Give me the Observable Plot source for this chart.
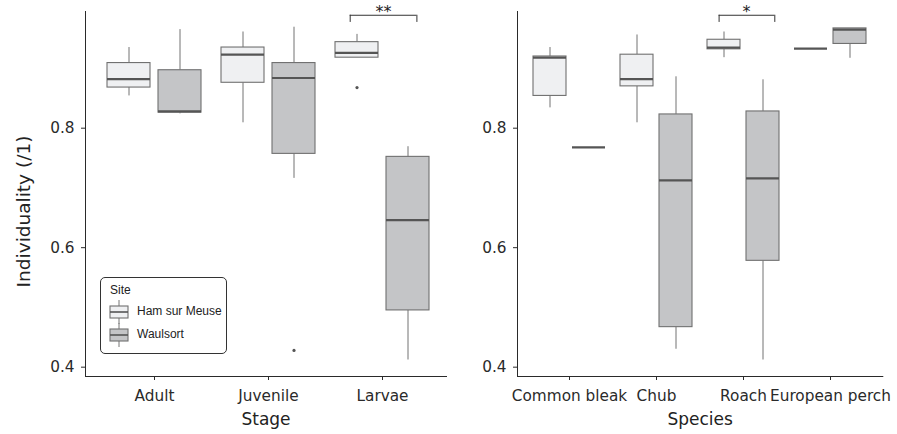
<!DOCTYPE html>
<html>
<head>
<meta charset="utf-8">
<script src="https://cdn.jsdelivr.net/npm/d3@7"></script>
<script src="https://cdn.jsdelivr.net/npm/@observablehq/plot@0.6"></script>
<style>
  html, body { margin: 0; padding: 0; background: #fff; }
  #wrap { position: relative; width: 897px; height: 434px; display: flex; }
  #legend { position: absolute; left: 100px; top: 277px; width: 125px; height: 75px;
            border: 1px solid #333; border-radius: 5px; background: #fff;
            font-family: "Liberation Sans", Arial, sans-serif; color: #222; }
  #legend .t { position: absolute; font-size: 12px; line-height: 12px; white-space: nowrap; }
  #legend svg { position: absolute; }
</style>
</head>
<body>
<div id="wrap"></div>
<script>
// ---------- data ----------
const sites = ["Ham sur Meuse", "Waulsort"];
const siteFill = ["#eff0f2", "#c4c5c7"];

// Stage panel
const stageCats = ["Adult", "Juvenile", "Larvae"];
const stageHamLo  = [0.854, 0.809, 0.918];
const stageHamQ1  = [0.868, 0.876, 0.918];
const stageHamMed = [0.882, 0.923, 0.926];
const stageHamQ3  = [0.909, 0.935, 0.944];
const stageHamHi  = [0.935, 0.961, 0.957];
const stageWauLo  = [0.824, 0.716, 0.412];
const stageWauQ1  = [0.826, 0.757, 0.495];
const stageWauMed = [0.828, 0.884, 0.646];
const stageWauQ3  = [0.897, 0.909, 0.752];
const stageWauHi  = [0.965, 0.969, 0.769];
const stageOutCat   = ["Juvenile", "Larvae"];
const stageOutSite  = ["Waulsort", "Ham sur Meuse"];
const stageOutValue = [0.428, 0.868];

// Species panel
const speciesCats = ["Common bleak", "Chub", "Roach", "European perch"];
const specHamLo  = [0.834, 0.809, 0.918, 0.933];
const specHamQ1  = [0.854, 0.870, 0.932, 0.933];
const specHamMed = [0.918, 0.882, 0.935, 0.933];
const specHamQ3  = [0.920, 0.923, 0.948, 0.933];
const specHamHi  = [0.935, 0.956, 0.961, 0.933];
const specWauLo  = [0.768, 0.430, 0.412, 0.917];
const specWauQ1  = [0.768, 0.467, 0.578, 0.941];
const specWauMed = [0.768, 0.7125, 0.716, 0.965];
const specWauQ3  = [0.768, 0.823, 0.828, 0.967];
const specWauHi  = [0.768, 0.886, 0.881, 0.967];

// significance brackets
const stageSig = {cat: "Larvae", label: "**", y: 0.989, yLeg: 0.977};
const specSig  = {cat: "Roach", label: "*", y: 0.989, yLeg: 0.977};

const yTicks = [0.4, 0.6, 0.8];
const yDomain = [0.3844, 0.9953];

// ---------- helpers ----------
function rows(cats, site, lo, q1, med, q3, hi) {
  return cats.map((c, i) => ({cat: c, site, lo: lo[i], q1: q1[i], med: med[i], q3: q3[i], hi: hi[i]}));
}

function panel(o) {
  const n = o.cats.length;
  const step = (o.range[1] - o.range[0]) / n;
  const band = 2 * o.boxW + o.gap;
  const pad = 1 - band / step;
  const off = (o.boxW + o.gap) / 2;
  const sideInset = o.boxW + o.gap;
  const marks = [];
  o.data.forEach((d, s) => {
    const dx = s === 0 ? -off : off;
    const ins = s === 0 ? {insetLeft: 0, insetRight: sideInset} : {insetLeft: sideInset, insetRight: 0};
    marks.push(Plot.ruleX(d, {x: "cat", y1: "lo", y2: "q1", dx, stroke: "#737373", strokeWidth: 1}));
    marks.push(Plot.ruleX(d, {x: "cat", y1: "q3", y2: "hi", dx, stroke: "#737373", strokeWidth: 1}));
    marks.push(Plot.barY(d, {x: "cat", y1: "q1", y2: "q3", fill: siteFill[s], stroke: "#707070", strokeWidth: 1.1, ...ins}));
    marks.push(Plot.tickY(d, {x: "cat", y: "med", stroke: "#555", strokeWidth: 2.2, ...ins}));
  });
  if (o.outliers) {
    o.outliers.forEach(p => {
      const s = sites.indexOf(p.site);
      marks.push(Plot.dot([p], {x: "cat", y: "value", dx: s === 0 ? -off : off, r: 1.6, fill: "#555", stroke: "none"}));
    });
  }
  const sig = o.sig;
  marks.push(Plot.tickY([sig], {x: "cat", y: "y", stroke: "#333", strokeWidth: 1,
    insetLeft: band / 2 + o.bracket[0], insetRight: band / 2 - o.bracket[1]}));
  marks.push(Plot.ruleX([sig], {x: "cat", y1: "yLeg", y2: "y", dx: o.bracket[0], stroke: "#333", strokeWidth: 1}));
  marks.push(Plot.ruleX([sig], {x: "cat", y1: "yLeg", y2: "y", dx: o.bracket[1], stroke: "#333", strokeWidth: 1}));
  marks.push(Plot.text([sig], {x: "cat", y: "y", text: "label", dx: o.starDx, dy: -3.5, fontSize: 16, fill: "#222"}));
  // axis titles
  marks.push(Plot.text([o.xLabel], {frameAnchor: "bottom", textAnchor: "middle", dy: 48, fontSize: 17, fill: "#222"}));
  if (o.yLabel) {
    marks.push(Plot.text([o.yLabel], {frameAnchor: "left", textAnchor: "middle", rotate: -90, dx: -61, dy: 17.5, fontSize: 18.5, fill: "#222"}));
  }
  return Plot.plot({
    width: o.width, height: 434,
    marginLeft: o.marginLeft, marginRight: o.marginRight, marginTop: 11, marginBottom: 58,
    style: {fontFamily: "'DejaVu Sans', Verdana, sans-serif", fontSize: "15.3px", color: "#2a2a2a", background: "transparent", overflow: "visible"},
    x: {domain: o.cats, range: o.range, paddingInner: pad, paddingOuter: pad / 2, label: null,
        tickSize: 4, tickPadding: 10, line: true},
    y: {domain: yDomain, ticks: yTicks, tickFormat: d => d.toFixed(1), label: null,
        tickSize: 4, tickPadding: 7, line: true},
    marks
  });
}

const left = panel({
  cats: stageCats, width: 450, marginLeft: 85, marginRight: 4, range: [96.55, 439.45],
  boxW: 43, gap: 8,
  data: [rows(stageCats, sites[0], stageHamLo, stageHamQ1, stageHamMed, stageHamQ3, stageHamHi),
         rows(stageCats, sites[1], stageWauLo, stageWauQ1, stageWauMed, stageWauQ3, stageWauHi)],
  outliers: stageOutCat.map((c, i) => ({cat: c, site: stageOutSite[i], value: stageOutValue[i]})),
  sig: stageSig, bracket: [-32.3, 34.4], starDx: 1,
  xLabel: "Stage", yLabel: "Individuality (/1)"
});

const right = panel({
  cats: speciesCats, width: 447, marginLeft: 67, marginRight: 14.7, range: [75.15, 423.55],
  boxW: 33, gap: 6,
  data: [rows(speciesCats, sites[0], specHamLo, specHamQ1, specHamMed, specHamQ3, specHamHi),
         rows(speciesCats, sites[1], specWauLo, specWauQ1, specWauMed, specWauQ3, specWauHi)],
  outliers: null,
  sig: specSig, bracket: [-24.4, 31.3], starDx: 3,
  xLabel: "Species", yLabel: null
});

const wrap = document.getElementById("wrap");
wrap.appendChild(left);
wrap.appendChild(right);

// ---------- legend ----------
const legend = document.createElement("div");
legend.id = "legend";
function icon(fill, top) {
  return `<svg width="20" height="24" style="left:8px;top:${top}px" viewBox="0 0 20 24">
    <line x1="10" y1="0" x2="10" y2="24" stroke="#777" stroke-width="1"/>
    <rect x="1" y="6" width="18" height="12" fill="${fill}" stroke="#707070" stroke-width="1.1"/>
    <line x1="1" y1="12" x2="19" y2="12" stroke="#555" stroke-width="1.6"/>
  </svg>`;
}
legend.innerHTML =
  `<div class="t" style="left:9px;top:6px">Site</div>` +
  icon(siteFill[0], 21.5) + `<div class="t" style="left:36px;top:27px">${sites[0]}</div>` +
  icon(siteFill[1], 45) + `<div class="t" style="left:36px;top:50px">${sites[1]}</div>`;
wrap.appendChild(legend);
</script>
</body>
</html>
